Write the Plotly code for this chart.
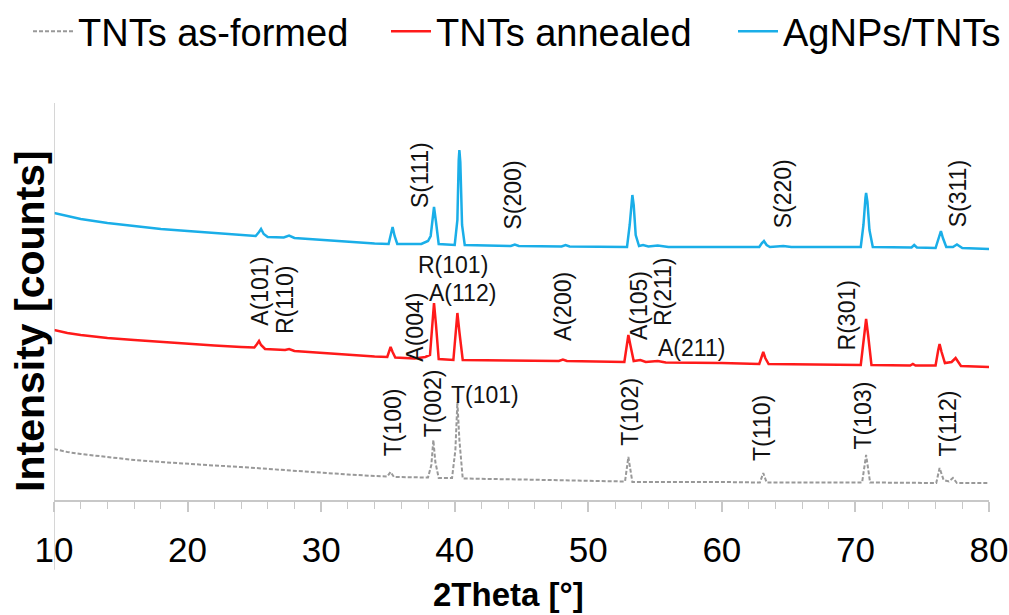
import plotly.graph_objects as go

# ---------------- data (2Theta in degrees, intensity in arbitrary counts) ----------------
x_asformed = [10, 11, 12, 14, 16, 18, 20, 22, 24, 26, 28, 30, 32, 34, 34.95, 35.2, 35.45,
              38.0, 38.25, 38.4, 38.55, 38.8, 39.8, 40.05, 40.2, 40.35, 40.6, 45, 50,
              52.75, 53.0, 53.3, 60, 62.85, 63.1, 63.35, 70.5, 70.8, 71.1, 76.05, 76.3,
              76.6, 77.0, 77.3, 77.6, 80]
y_asformed = [510, 480, 460, 430, 400, 380, 360, 345, 330, 310, 290, 270, 255, 240, 235, 280, 230,
              225, 350, 600, 380, 220, 220, 500, 980, 600, 215, 205, 190,
              185, 430, 180, 180, 175, 270, 175, 175, 450, 175, 170, 320,
              200, 185, 220, 170, 170]

x_annealed = [10, 11, 12, 14, 16, 18, 20, 22, 24, 25.0, 25.2, 25.35, 25.5, 25.8, 27.3, 27.6, 28.0,
              30, 32, 34, 34.95, 35.1, 35.2, 35.35, 35.55, 37.0, 37.8, 38.15, 38.3, 38.45, 38.6,
              38.8, 39.9, 40.05, 40.2, 40.35, 40.6, 44, 47.8, 48.1, 48.4, 52.7, 52.9, 53.0,
              53.15, 53.4, 53.9, 54.3, 55.2, 55.8, 60, 62.8, 63.0, 63.1, 63.25, 63.5, 70.4,
              70.6, 70.75, 70.8, 70.95, 71.2, 74.1, 74.3, 74.5, 76.0, 76.2, 76.3, 76.45, 76.7,
              77.2, 77.5, 77.9, 80]
y_annealed = [1700, 1670, 1650, 1620, 1600, 1580, 1560, 1545, 1530, 1525, 1560, 1590, 1550, 1510, 1500, 1510, 1490,
              1470, 1450, 1435, 1430, 1480, 1530, 1480, 1425, 1415, 1430, 1450, 1700, 1970, 1750,
              1410, 1400, 1600, 1870, 1680, 1400, 1395, 1390, 1405, 1390, 1380, 1550, 1650,
              1550, 1390, 1400, 1380, 1390, 1375, 1370, 1360, 1440, 1480, 1420, 1360, 1350,
              1600, 1790, 1810, 1650, 1350, 1345, 1360, 1345, 1345, 1500, 1560, 1480, 1370,
              1380, 1420, 1340, 1330]

x_agnps = [10, 11, 12, 14, 16, 18, 20, 22, 24, 25.1, 25.35, 25.5, 25.7, 26.0, 27.2, 27.6, 28.0,
           30, 32, 34, 35.05, 35.25, 35.35, 35.5, 35.7, 37.5, 38.0, 38.2, 38.35, 38.45, 38.6,
           38.8, 40.0, 40.2, 40.3, 40.35, 40.42, 40.55, 40.75, 42, 44.2, 44.5, 44.8, 48.0,
           48.3, 48.6, 52.9, 53.1, 53.25, 53.3, 53.4, 53.55, 53.8, 54.1, 54.5, 55.2, 56, 60,
           62.8, 63.0, 63.15, 63.35, 63.6, 64.6, 65.2, 70.4, 70.6, 70.75, 70.8, 70.9, 71.05,
           71.3, 74.2, 74.4, 74.6, 76.0, 76.25, 76.4, 76.55, 76.8, 77.3, 77.6, 78.0, 80]
y_agnps = [2870, 2840, 2810, 2770, 2740, 2710, 2690, 2670, 2650, 2640, 2680, 2710, 2660, 2630, 2625, 2645, 2620,
           2600, 2580, 2565, 2560, 2660, 2730, 2640, 2560, 2560, 2590, 2640, 2860, 2930, 2780,
           2560, 2550, 2800, 3400, 3500, 3380, 2750, 2550, 2545, 2540, 2555, 2540, 2535,
           2550, 2535, 2530, 2750, 3000, 3050, 2950, 2650, 2540, 2550, 2535, 2545, 2530, 2530,
           2530, 2570, 2590, 2550, 2530, 2540, 2530, 2530, 2750, 3020, 3070, 2980, 2700,
           2530, 2525, 2550, 2525, 2520, 2640, 2690, 2620, 2530, 2530, 2555, 2520, 2510]

series_names = ["TNTs as-formed", "TNTs annealed", "AgNPs/TNTs"]

# peak labels: (text, 2Theta, intensity, rotated)
peak_labels = [
    ("S(111)", 37.4, 3250, True), ("S(200)", 44.4, 3050, True),
    ("S(220)", 64.6, 3060, True), ("S(311)", 77.7, 3060, True),
    ("A(101)", 25.4, 2090, True), ("R(110)", 27.3, 2000, True),
    ("R(101)", 39.9, 2350, False), ("A(112)", 40.6, 2070, False),
    ("A(004)", 37.0, 1730, True), ("A(200)", 48.1, 1940, True),
    ("A(105)", 53.8, 1940, True), ("R(211)", 55.6, 2080, True),
    ("A(211)", 57.7, 1520, False), ("R(301)", 69.4, 1850, True),
    ("T(100)", 35.4, 780, True), ("T(002)", 38.4, 970, True),
    ("T(101)", 42.3, 1050, False), ("T(102)", 53.1, 880, True),
    ("T(110)", 63.0, 720, True), ("T(103)", 70.6, 850, True),
    ("T(112)", 76.9, 760, True),
]

x_ticks = [10, 20, 30, 40, 50, 60, 70, 80]

# ---------------- figure ----------------
FONT = "Liberation Sans, Arial, sans-serif"
fig = go.Figure()
fig.add_trace(go.Scatter(x=x_asformed, y=y_asformed, mode="lines", name=series_names[0],
                         legend="legend",
                         line=dict(color="#999999", width=2, dash="4px,2px")))
fig.add_trace(go.Scatter(x=x_annealed, y=y_annealed, mode="lines", name=series_names[1],
                         legend="legend2",
                         line=dict(color="#ff1a1a", width=2.5)))
fig.add_trace(go.Scatter(x=x_agnps, y=y_agnps, mode="lines", name=series_names[2],
                         legend="legend3",
                         line=dict(color="#1aaee8", width=2.5)))

for text, xv, yv, rot in peak_labels:
    fig.add_annotation(x=xv, y=yv, xref="x", yref="y", text=text, showarrow=False,
                       textangle=-90 if rot else 0, xanchor="center", yanchor="middle",
                       font=dict(family=FONT, size=23, color="#111111"))

# axis titles
fig.add_annotation(x=-0.0257, y=0.451, xref="paper", yref="paper", text="<b>Intensity [counts]</b>",
                   showarrow=False, textangle=-90, xanchor="center", yanchor="middle",
                   font=dict(family=FONT, size=41, color="#000000"))
fig.add_annotation(x=0.4856, y=-0.237, xref="paper", yref="paper", text="<b>2Theta [°]</b>",
                   showarrow=False, xanchor="center", yanchor="middle",
                   font=dict(family=FONT, size=33, color="#000000"))

# y axis line extending below the x axis
fig.add_shape(type="line", xref="x", yref="paper", x0=10, x1=10, y0=-0.176, y1=1,
              line=dict(color="#c8c8c8", width=1.5))


def legend_box(xpx):
    return dict(orientation="h", x=xpx / 1009, xref="container", xanchor="left",
                y=1.0, yref="container", yanchor="top",
                font=dict(family=FONT, size=38), itemwidth=40,
                bgcolor="rgba(0,0,0,0)")


fig.update_layout(
    width=1009, height=615,
    margin=dict(l=54, r=20, t=103, b=115, autoexpand=False),
    paper_bgcolor="white", plot_bgcolor="white",
    font=dict(family=FONT, color="#000000"),
    showlegend=True,
    legend=legend_box(28),
    legend2=legend_box(386),
    legend3=legend_box(733),
)
fig.update_xaxes(range=[10, 80], tickvals=x_ticks, ticktext=[str(v) for v in x_ticks],
                 automargin=False,
                 showgrid=False, zeroline=False, showline=True, linecolor="#c8c8c8", linewidth=1.5,
                 ticks="outside", ticklen=10, tickcolor="#c8c8c8", tickwidth=1.5,
                 ticklabelstandoff=8,
                 tickfont=dict(family=FONT, size=35, color="#000000"),
                 minor=dict(dtick=2, ticks="outside", ticklen=7, tickcolor="#c8c8c8", tickwidth=1.2))
fig.update_yaxes(range=[0, 3970], showticklabels=False, showgrid=False, zeroline=False,
                 showline=False, ticks="", automargin=False)

fig.write_html("out.html")
